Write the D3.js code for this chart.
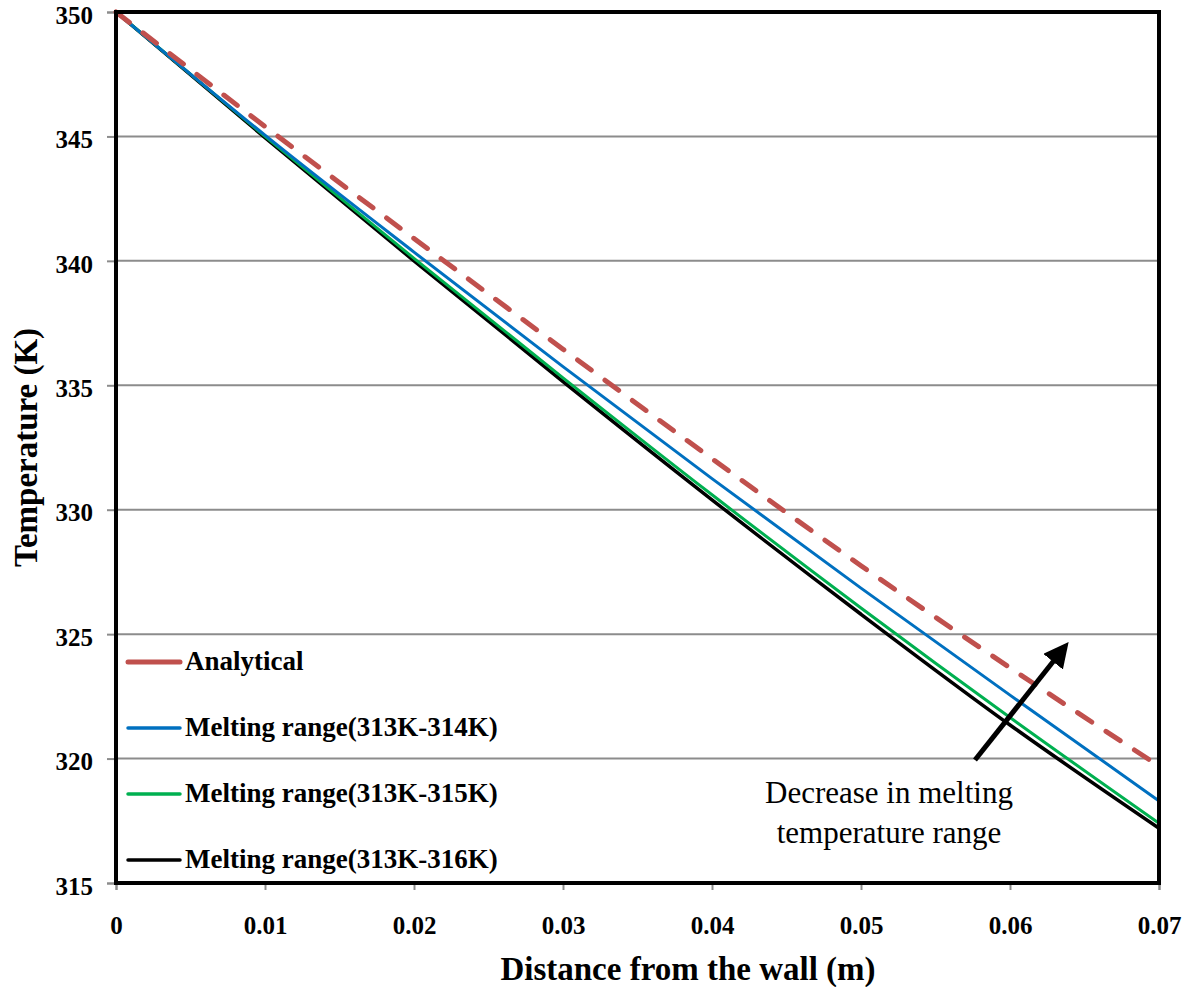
<!DOCTYPE html>
<html>
<head>
<meta charset="utf-8">
<script src="https://cdn.jsdelivr.net/npm/d3@7"></script>
<style>
  html, body { margin: 0; padding: 0; background: #fff; }
  svg { display: block; }
  text { font-family: "Liberation Serif", "DejaVu Serif", serif; }
</style>
</head>
<body>
<svg id="chart" width="1197" height="987"></svg>
<script>
// Distance from the wall (m)
const distance = [0, 0.01, 0.02, 0.03, 0.04, 0.05, 0.06, 0.07];

// Temperature profiles (K)
const analytical = [350, 345.4, 340.9, 336.45, 332.05, 327.75, 323.65, 319.7];
const range314   = [350, 345.05, 340.35, 335.75, 331.25, 326.85, 322.55, 318.3];
const range315   = [350, 345.0, 340.1, 335.3, 330.6, 326.05, 321.65, 317.4];
const range316   = [350, 344.95, 340.0, 335.15, 330.4, 325.8, 321.35, 317.2];

const seriesNames  = ["Analytical", "Melting range(313K-314K)", "Melting range(313K-315K)", "Melting range(313K-316K)"];
const seriesColors = ["#c0504d", "#0070c0", "#00b050", "#000000"];

const xTicks = [0, 0.01, 0.02, 0.03, 0.04, 0.05, 0.06, 0.07];
const xTickLabels = ["0", "0.01", "0.02", "0.03", "0.04", "0.05", "0.06", "0.07"];
const yTicks = [315, 320, 325, 330, 335, 340, 345, 350];

const svg = d3.select("#chart");
const plot = { left: 116, right: 1159, top: 12, bottom: 883 };

const x = d3.scaleLinear().domain([0, 0.07]).range([plot.left, plot.right]);
const y = d3.scaleLinear().domain([315, 350]).range([plot.bottom, plot.top]);

// Horizontal gridlines
svg.append("g")
  .selectAll("line")
  .data(yTicks.filter(v => v !== 315 && v !== 350))
  .join("line")
  .attr("x1", plot.left).attr("x2", plot.right)
  .attr("y1", d => y(d)).attr("y2", d => y(d))
  .attr("stroke", "#8c8c8c").attr("stroke-width", 2);

// Axes
const xAxis = svg.append("g")
  .attr("transform", `translate(0,${plot.bottom})`)
  .call(d3.axisBottom(x).tickValues(xTicks).tickFormat((d, i) => xTickLabels[i]).tickSize(7).tickPadding(26));
const yAxis = svg.append("g")
  .attr("transform", `translate(${plot.left},0)`)
  .call(d3.axisLeft(y).tickValues(yTicks).tickFormat(d3.format("d")).tickSize(9).tickPadding(14));

[xAxis, yAxis].forEach(g => {
  g.attr("font-family", null);
  g.select(".domain").attr("stroke", "#8c8c8c").attr("stroke-width", 2);
  g.selectAll(".tick line").attr("stroke", "#8c8c8c").attr("stroke-width", 2);
  g.selectAll(".tick text")
    .attr("fill", "#000")
    .style("font-family", "'Liberation Serif', serif")
    .style("font-weight", "bold")
    .style("font-size", "25px");
});
yAxis.selectAll(".tick text").attr("dy", "0.45em");

// Temperature curves
const allSeries = [analytical, range314, range315, range316];
const line = d3.line()
  .x((d, i) => x(distance[i]))
  .y(d => y(d))
  .curve(d3.curveMonotoneX);

const curves = svg.append("g");
// solid curves first, analytical dashed curve on top
[3, 2, 1].forEach(k => {
  curves.append("path")
    .datum(allSeries[k])
    .attr("d", line)
    .attr("fill", "none")
    .attr("stroke", seriesColors[k])
    .attr("stroke-width", k === 3 ? 3.5 : 3);
});
curves.append("path")
  .datum(analytical)
  .attr("d", line)
  .attr("fill", "none")
  .attr("stroke", seriesColors[0])
  .attr("stroke-width", 5)
  .attr("stroke-linecap", "round")
  .attr("stroke-dasharray", "17,17");

// Plot frame
svg.append("rect")
  .attr("x", plot.left).attr("y", plot.top)
  .attr("width", plot.right - plot.left).attr("height", plot.bottom - plot.top)
  .attr("fill", "none").attr("stroke", "#000").attr("stroke-width", 4);

// Legend
const legend = svg.append("g");
const legendRows = [662, 728, 794, 860];
seriesNames.forEach((name, i) => {
  const row = legend.append("g").attr("transform", `translate(0,${legendRows[i]})`);
  row.append("line")
    .attr("x1", 128).attr("x2", 180).attr("y1", 0).attr("y2", 0)
    .attr("stroke", seriesColors[i])
    .attr("stroke-width", i === 0 ? 5 : 3.5)
    .attr("stroke-linecap", "round");
  row.append("text")
    .attr("x", 185).attr("y", 8)
    .style("font-weight", "bold").style("font-size", "27px")
    .text(name);
});

// Annotation arrow
const defs = svg.append("defs");
defs.append("marker")
  .attr("id", "arrowhead")
  .attr("viewBox", "0 0 10 10")
  .attr("refX", 2).attr("refY", 5)
  .attr("markerWidth", 5).attr("markerHeight", 5)
  .attr("orient", "auto")
  .append("path").attr("d", "M0,0 L10,5 L0,10 z").attr("fill", "#000");

svg.append("line")
  .attr("x1", x(0.05765)).attr("y1", y(319.94))
  .attr("x2", x(0.0631)).attr("y2", y(324.05))
  .attr("stroke", "#000").attr("stroke-width", 5)
  .attr("marker-end", "url(#arrowhead)");

const note = svg.append("text")
  .attr("text-anchor", "middle")
  .style("font-size", "31px");
note.append("tspan").attr("x", 889).attr("y", 803).text("Decrease in melting");
note.append("tspan").attr("x", 889).attr("y", 843).text("temperature range");

// Axis titles
svg.append("text")
  .attr("x", 688).attr("y", 980)
  .attr("text-anchor", "middle")
  .style("font-weight", "bold").style("font-size", "33px")
  .text("Distance from the wall (m)");

svg.append("text")
  .attr("transform", `translate(37,${(plot.top + plot.bottom) / 2}) rotate(-90)`)
  .attr("text-anchor", "middle")
  .style("font-weight", "bold").style("font-size", "33px")
  .text("Temperature (K)");
</script>
</body>
</html>
